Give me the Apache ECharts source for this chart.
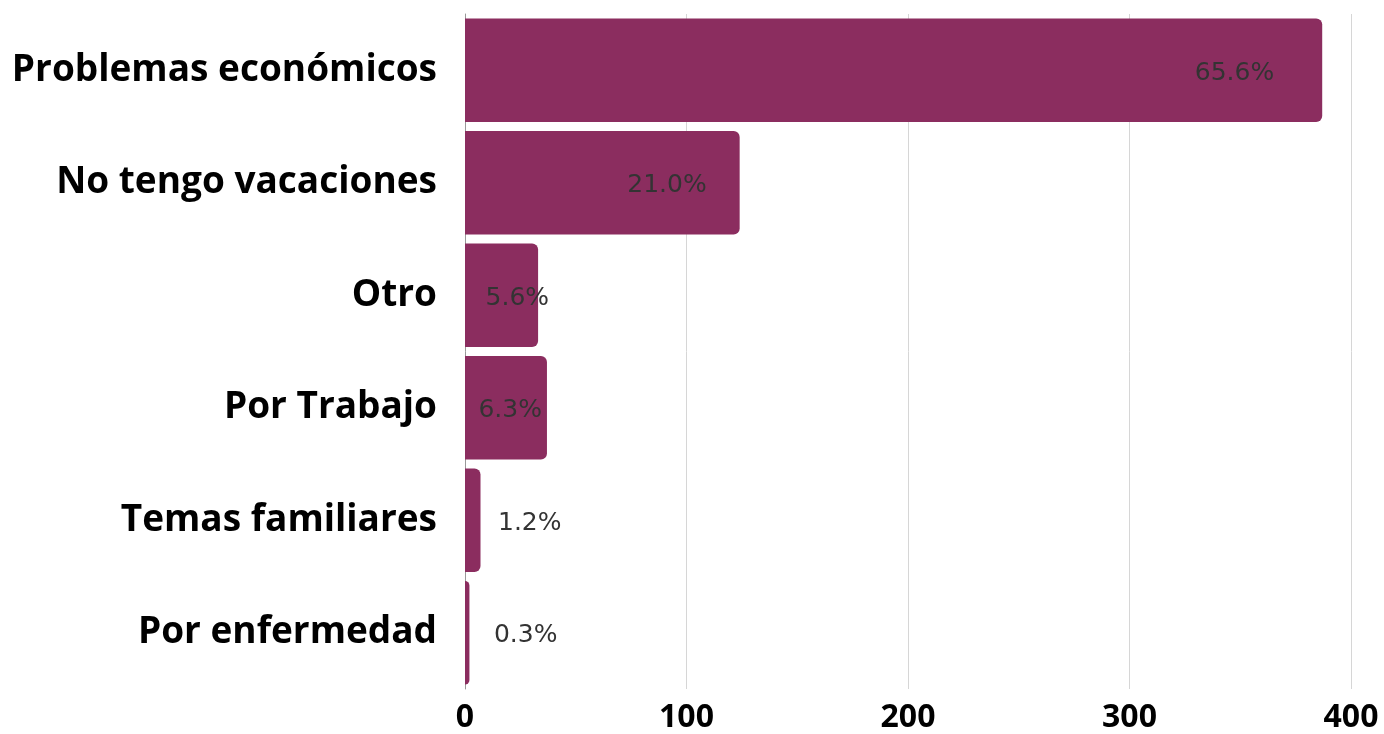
<!DOCTYPE html>
<html>
<head>
<meta charset="utf-8">
<script src="https://cdn.jsdelivr.net/npm/echarts@6/dist/echarts.min.js"></script>
<style>
html,body{margin:0;padding:0;background:#fff;}
#chart{width:1384px;height:734px;}
</style>
</head>
<body>
<div id="chart"></div>
<script>
const categories = ["Problemas económicos","No tengo vacaciones","Otro","Por Trabajo","Temas familiares","Por enfermedad"];
const values = [387, 124, 33, 37, 7, 2];
const percentLabels = ["65.6%","21.0%","5.6%","6.3%","1.2%","0.3%"];
const xTicks = [0, 100, 200, 300, 400];

// label horizontal shifts (style only): distance of text right edge from bar end
const labelInset = [48, 33, -11, 5, -81, -88];

const chart = echarts.init(document.getElementById('chart'));
chart.setOption({
  animation: false,
  grid: {left: 465, right: 33, top: 14, bottom: 44, containLabel: false},
  xAxis: {
    type: 'value', min: xTicks[0], max: xTicks[xTicks.length-1], interval: 100,
    axisLine: {show: false}, axisTick: {show: false},
    splitLine: {show: true, lineStyle: {color: '#d6d6d6', width: 1}},
    axisLabel: {color: '#000', fontFamily: 'Open Sans', fontWeight: 'bold', fontSize: 32, margin: 13}
  },
  yAxis: {
    type: 'category', data: categories, inverse: true,
    axisLine: {show: true, lineStyle: {color: '#999', width: 1}},
    axisTick: {show: false},
    axisLabel: {color: '#000', fontFamily: 'Open Sans', fontWeight: 'bold', fontSize: 37, margin: 28}
  },
  series: [{
    type: 'bar',
    barCategoryGap: '8%',
    itemStyle: {color: '#8b2d5f', borderRadius: [0, 6, 6, 0]},
    data: values.map((v, i) => ({
      value: v,
      label: {
        show: true, position: 'insideRight', distance: labelInset[i],
        offset: [0, 3],
        formatter: percentLabels[i],
        color: '#333', fontFamily: 'DejaVu Sans', fontSize: 25
      }
    }))
  }]
});
</script>
</body>
</html>
